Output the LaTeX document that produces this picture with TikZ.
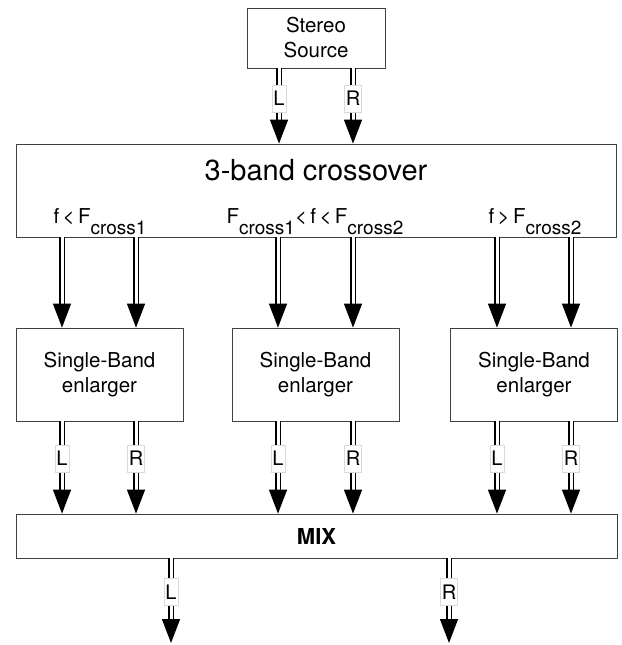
\documentclass[tikz,border=0pt]{standalone}
\usepackage{fontspec}
\setmainfont{TeX Gyre Heros}
\usetikzlibrary{arrows.meta}
\newcommand{\crs}[1]{\raisebox{-11pt}{\fontsize{19}{19}\selectfont #1}}

\begin{document}
\begin{tikzpicture}[x=1pt, y=-1pt,
    box/.style={draw=black!75, line width=0.8pt, minimum width=167pt,
      minimum height=93pt, inner sep=0pt, align=center,
      font=\fontsize{20.5}{25}\selectfont},
    band/.style={anchor=base, inner sep=0pt, font=\fontsize{20.5}{25}\selectfont},
    sig/.style={draw=black, double=white, line width=1.4pt, double distance=3pt,
      -{Triangle[length=24pt,width=18pt]}},
    chan/.style={pos=0.4, fill=white, draw=black!15, line width=0.5pt,
      inner xsep=1.5pt, inner ysep=0pt, minimum height=27pt,
      font=\fontsize{20}{24}\selectfont}]
  \useasboundingbox (0,0) rectangle (621,645);
  \node[box, minimum width=138pt, minimum height=60pt] (src) at (316,38) {Stereo\\Source};
  \node[box, minimum width=600pt] (cross) at (316,190.5) {};
  \node[anchor=base, font=\fontsize{29}{34}\selectfont] (title) at (316,180) {3-band crossover};
  \node[band] (low) at (100,223) {f\,<\,F\crs{cross1}};
  \node[band] (mid) at (315,223) {F\crs{cross1}<\,f\,<\,F\crs{cross2}};
  \node[band] (high) at (535,223) {f\,>\,F\crs{cross2}};
  \node[box] (enl1) at (99.5,374.5) {Single-Band\\enlarger};
  \node[box] (enl2) at (315.5,374.5) {Single-Band\\enlarger};
  \node[box] (enl3) at (534,374.5) {Single-Band\\enlarger};
  \node[box, minimum width=601pt, minimum height=44pt,
    font=\bfseries\fontsize{22}{26}\selectfont] (mix) at (316.5,536) {MIX};
  \coordinate (outL) at (171,643);
  \coordinate (outR) at (449,643);
  \draw[sig] (src.south -| 279,0) -- node[chan] {L} (cross.north -| 279,0);
  \draw[sig] (src.south -| 353,0) -- node[chan] {R} (cross.north -| 353,0);
  \draw[sig] (cross.south -| 62,0) -- (enl1.north -| 62,0);
  \draw[sig] (cross.south -| 136,0) -- (enl1.north -| 136,0);
  \draw[sig] (cross.south -| 278,0) -- (enl2.north -| 278,0);
  \draw[sig] (cross.south -| 353,0) -- (enl2.north -| 353,0);
  \draw[sig] (cross.south -| 497,0) -- (enl3.north -| 497,0);
  \draw[sig] (cross.south -| 571,0) -- (enl3.north -| 571,0);
  \draw[sig] (enl1.south -| 62,0) -- node[chan] {L} (mix.north -| 62,0);
  \draw[sig] (enl1.south -| 136,0) -- node[chan] {R} (mix.north -| 136,0);
  \draw[sig] (enl2.south -| 278,0) -- node[chan] {L} (mix.north -| 278,0);
  \draw[sig] (enl2.south -| 353,0) -- node[chan] {R} (mix.north -| 353,0);
  \draw[sig] (enl3.south -| 497,0) -- node[chan] {L} (mix.north -| 497,0);
  \draw[sig] (enl3.south -| 571,0) -- node[chan] {R} (mix.north -| 571,0);
  \draw[sig] (mix.south -| outL) -- node[chan] {L} (outL);
  \draw[sig] (mix.south -| outR) -- node[chan] {R} (outR);
\end{tikzpicture}
\end{document}
